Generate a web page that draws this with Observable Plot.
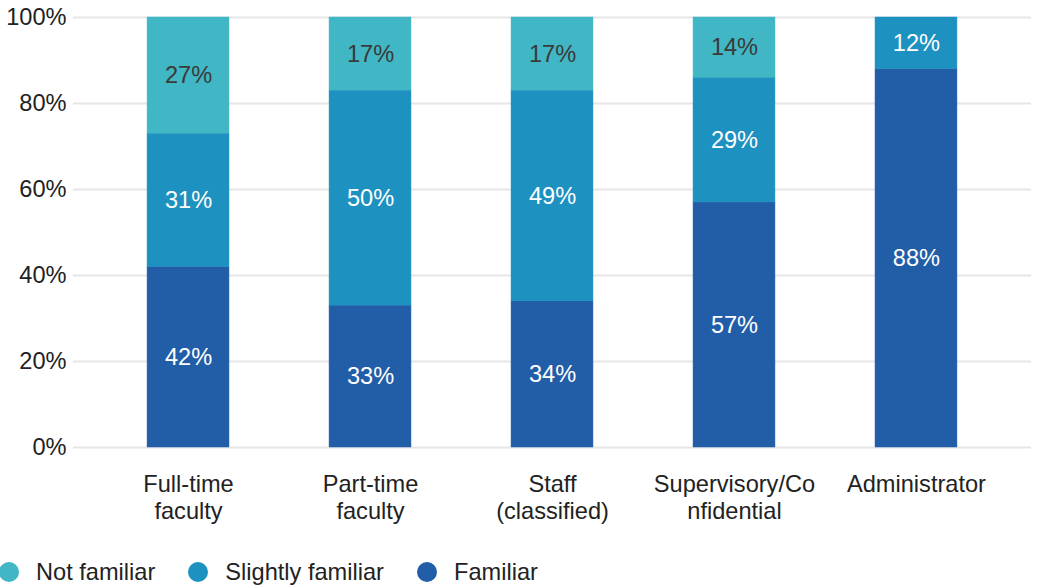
<!DOCTYPE html>
<html>
<head>
<meta charset="utf-8">
<script src="https://cdn.jsdelivr.net/npm/d3@7"></script>
<script src="https://cdn.jsdelivr.net/npm/@observablehq/plot@0.6"></script>
<style>
  html, body { margin: 0; padding: 0; background: #fff; }
  body { font-family: "Liberation Sans", Arial, sans-serif; width: 1038px; overflow: hidden; }
  #legend { display: flex; align-items: center; height: 46px; margin-top: 4px; font-size: 23.6px; color: #222; }
  #legend .item { display: flex; align-items: center; margin-right: 34px; }
  #legend .sw { width: 20px; height: 20px; border-radius: 50%; margin-right: 17px; margin-left: -1px; }
</style>
</head>
<body>
<div id="chart"></div>
<div id="legend"></div>
<script>
const categories = ["Full-time\nfaculty", "Part-time\nfaculty", "Staff\n(classified)", "Supervisory/Co\nnfidential", "Administrator"];
const seriesNames = ["Familiar", "Slightly familiar", "Not familiar"];
const familiar = [42, 33, 34, 57, 88];
const slightlyFamiliar = [31, 50, 49, 29, 12];
const notFamiliar = [27, 17, 17, 14, 0];
const colors = ["#225ea8", "#1d91c0", "#41b6c4"];
const labelColors = ["#ffffff", "#ffffff", "#3a3a3a"];
const yTicks = [0, 20, 40, 60, 80, 100];
const legendOrder = ["Not familiar", "Slightly familiar", "Familiar"];

const seriesValues = [familiar, slightlyFamiliar, notFamiliar];
const rows = [];
categories.forEach((c, i) => {
  seriesNames.forEach((s, j) => {
    rows.push({category: c, series: s, value: seriesValues[j][i], order: j});
  });
});

const chart = Plot.plot({
  width: 1038,
  height: 545,
  marginTop: 17,
  marginBottom: 98,
  marginLeft: 73,
  marginRight: 7,
  style: {fontFamily: '"Liberation Sans", Arial, sans-serif', fontSize: "23.6px", color: "#222", background: "#fff"},
  x: {domain: categories, paddingInner: 0.55, paddingOuter: 0.407, round: false, label: null},
  y: {domain: [0, 100], label: null},
  color: {domain: seriesNames, range: colors},
  marks: [
    Plot.gridY(yTicks, {stroke: "#e6e6e6", strokeOpacity: 1, strokeWidth: 2}),
    Plot.barY(rows, {x: "category", y: "value", fill: "series", order: seriesNames, stroke: "series", strokeWidth: 0.5}),
    Plot.text(rows.filter(d => d.value > 0), Plot.stackY({
      x: "category", y: "value", z: "series", order: seriesNames,
      text: d => d.value + "%",
      fill: d => labelColors[d.order],
      fontSize: 23.6
    })),
    Plot.axisY(yTicks, {tickSize: 0, tickPadding: 7, tickFormat: d => d + "%", fontSize: 23.6, fill: "#222", label: null}),
    Plot.axisX({tickSize: 0, tickPadding: 26, fontSize: 23.6, fill: "#222", lineHeight: 1.12, label: null})
  ]
});
document.getElementById("chart").appendChild(chart);

const legend = document.getElementById("legend");
legendOrder.forEach(name => {
  const item = document.createElement("div");
  item.className = "item";
  const sw = document.createElement("span");
  sw.className = "sw";
  sw.style.background = colors[seriesNames.indexOf(name)];
  const t = document.createElement("span");
  t.textContent = name;
  item.appendChild(sw);
  item.appendChild(t);
  legend.appendChild(item);
});
</script>
</body>
</html>
